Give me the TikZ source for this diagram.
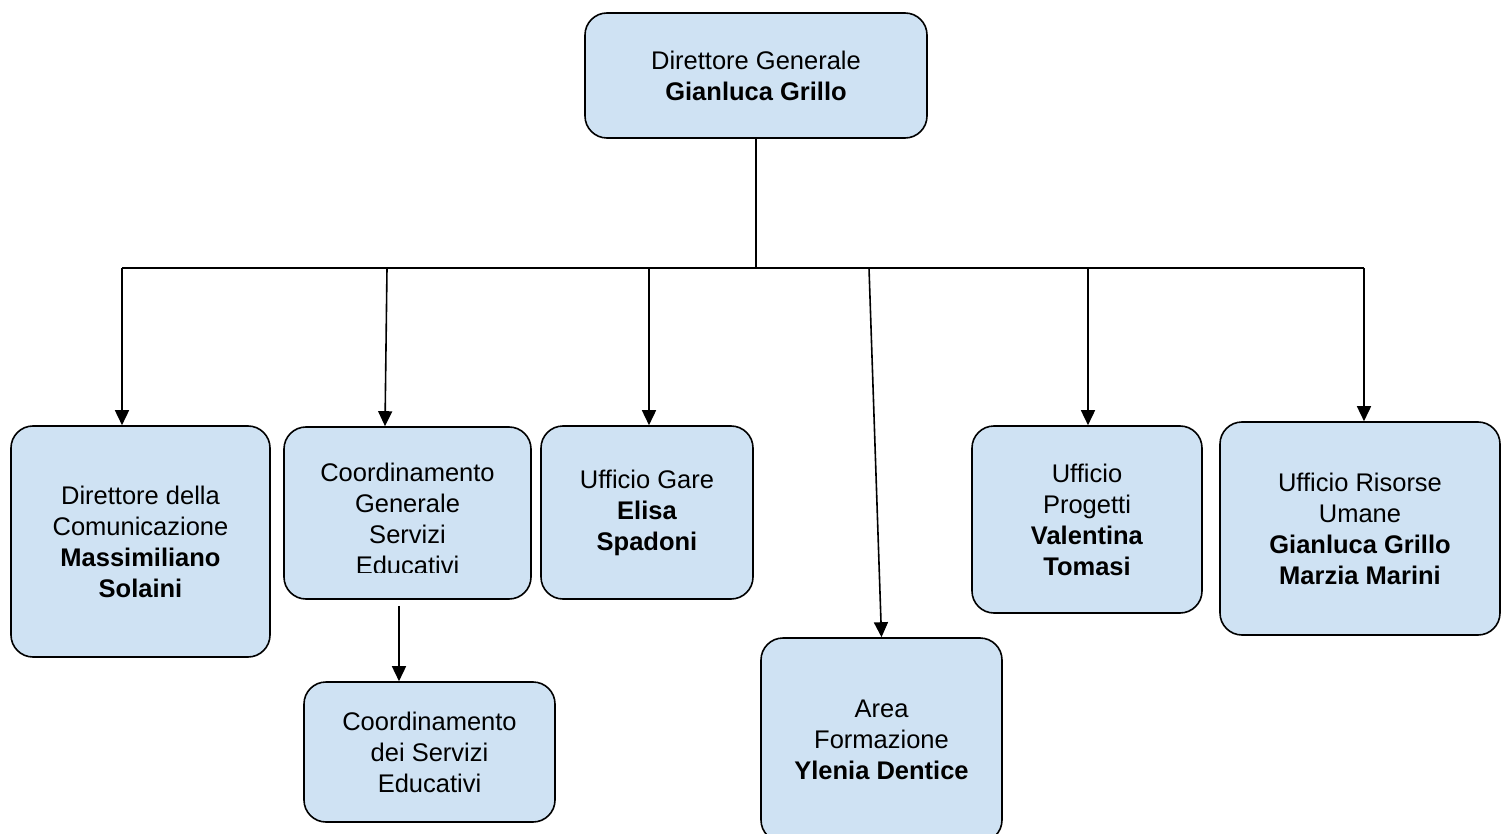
\documentclass[tikz,border=0pt]{standalone}
\usepackage{fontspec}
\setmainfont{Liberation Sans}
\usetikzlibrary{arrows.meta}
\definecolor{boxfill}{RGB}{207,226,243}
\begin{document}
\begin{tikzpicture}[x=1pt,y=-1pt,
  box/.style={draw=black,line width=1.6pt,fill=boxfill,rounded corners=22pt,inner sep=0pt,align=center,
    font=\fontsize{25.5}{31}\selectfont},
  txt/.style={inner sep=0pt,align=center,font=\fontsize{25.5}{31}\selectfont},
  conn/.style={line width=1.6pt,draw=black},
  arr/.style={conn,-{Triangle[width=14pt,length=15pt]}}]
\useasboundingbox (0,0) rectangle (1502,834);
\node[box,minimum width=342pt,minimum height=125pt] (top) at (756,75.5) {Direttore Generale\\\textbf{Gianluca Grillo}};
\node[box,minimum width=259pt,minimum height=231pt] (d1) at (140.5,541.5) {Direttore della\\Comunicazione\\\textbf{Massimiliano}\\\textbf{Solaini}};
\node[box,minimum width=247pt,minimum height=172pt] (cgs) at (407.5,513) {};
\begin{scope}
\clip (284,427) rectangle (531,572);
\node[txt] (cgstext) at (407.5,518.5) {Coordinamento\\Generale\\Servizi\\Educativi};
\end{scope}
\node[box,minimum width=212pt,minimum height=173pt] (ug) at (647,512.5) {Ufficio Gare\\\textbf{Elisa}\\\textbf{Spadoni}};
\node[box,minimum width=241pt,minimum height=204pt] (af) at (881.5,740) {Area\\Formazione\\\textbf{Ylenia Dentice}};
\node[box,minimum width=230pt,minimum height=187pt] (up) at (1087,519.5) {Ufficio\\Progetti\\\textbf{Valentina}\\\textbf{Tomasi}};
\node[box,minimum width=280pt,minimum height=213pt] (rum) at (1360,528.5) {Ufficio Risorse\\Umane\\\textbf{Gianluca Grillo}\\\textbf{Marzia Marini}};
\node[box,minimum width=251pt,minimum height=140pt] (csed) at (429.5,752) {Coordinamento\\dei Servizi\\Educativi};
% bus
\coordinate (bus) at (756,268);
\coordinate (bl) at (122,268);
\coordinate (br) at (1364,268);
\coordinate (b2) at (387,268);
\coordinate (b3) at (649,268);
\coordinate (b4) at (869,268);
\coordinate (b5) at (1088,268);
\draw[conn] (top.south) -- (bus);
\draw[conn] (bl) -- (br);
\draw[arr] (bl) -- (bl |- d1.north);
\draw[arr] (b2) -- ([xshift=-2pt]b2 |- cgs.north);
\draw[arr] (b3) -- (b3 |- ug.north);
\draw[arr] (b4) -- (af.north);
\draw[arr] (b5) -- (b5 |- up.north);
\draw[arr] (br) -- (br |- rum.north);
\coordinate (cs) at ([xshift=-8.5pt,yshift=-6pt]cgs.south);
\draw[arr] (cs) -- (cs |- csed.north);
\end{tikzpicture}
\end{document}
